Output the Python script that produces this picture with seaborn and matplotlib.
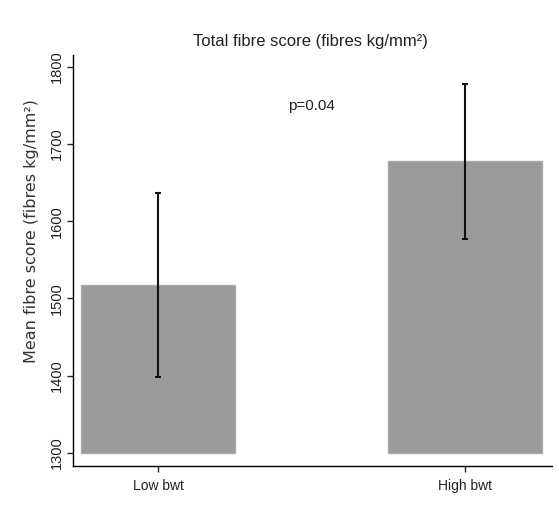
import matplotlib
matplotlib.use("Agg")
import matplotlib.pyplot as plt
import seaborn as sns
import numpy as np
import pandas as pd

# ---- data ----
groups = ["Low bwt", "High bwt"]
means = [1517, 1678]
ci_low = [1398, 1577]
ci_high = [1636, 1777]
y_ticks = [1300, 1400, 1500, 1600, 1700, 1800]
base_value = 1300
title = "Total fibre score (fibres kg/mm²)"
ylabel = "Mean fibre score (fibres kg/mm²)"
annotation = "p=0.04"

sns.set_style("ticks")
plt.rcParams["font.family"] = ["Liberation Sans", "DejaVu Sans"]

fig = plt.figure(figsize=(5.59, 5.12), dpi=100)
ax = fig.add_axes([0.130, 0.0908, 0.857, 0.8018])

df = pd.DataFrame({"group": groups, "mean": means})
sns.barplot(data=df, x="group", y="mean", ax=ax, color="#9a9a9a",
            saturation=1, width=0.5, edgecolor="#ababab", linewidth=1,
            errorbar=None)
# bars start at the base value rather than zero
for p in ax.patches:
    h = p.get_height()
    p.set_y(base_value)
    p.set_height(h - base_value)

xs = np.arange(len(groups))
m = np.array(means)
yerr = np.vstack([m - np.array(ci_low), np.array(ci_high) - m])
ax.errorbar(xs, m, yerr=yerr, fmt="none", ecolor="#111111", elinewidth=1.5,
            capsize=2.2, capthick=1.5, zorder=5)

ax.set_xlim(-0.278, 1.282)
ax.set_ylim(1283.8, 1815)
ax.set_yticks(y_ticks)
ax.set_yticklabels([str(t) for t in y_ticks], rotation=90, va="center",
                   fontsize=10.5, color="#222222")
ax.tick_params(axis="y", length=4, width=1, pad=2, colors="#222222")
ax.tick_params(axis="x", length=4, width=1, pad=6, labelsize=10, colors="#222222")
ax.set_xlabel("")
ax.set_ylabel(ylabel, fontsize=11.5, family=["DejaVu Sans"], color="#333333")
ax.yaxis.set_label_coords(-0.085, 0.572)
ax.yaxis.label.set_va("center")
for s in ["top", "right"]:
    ax.spines[s].set_visible(False)
for s in ["left", "bottom"]:
    ax.spines[s].set_color("black")
    ax.spines[s].set_linewidth(1)

fig.text(0.555, 0.918, title, ha="center", va="center", fontsize=12, color="#222222")
ax.text(0.5, 1749, annotation, ha="center", va="center", fontsize=11, color="#222222")

fig.savefig("out.png", dpi=100)
